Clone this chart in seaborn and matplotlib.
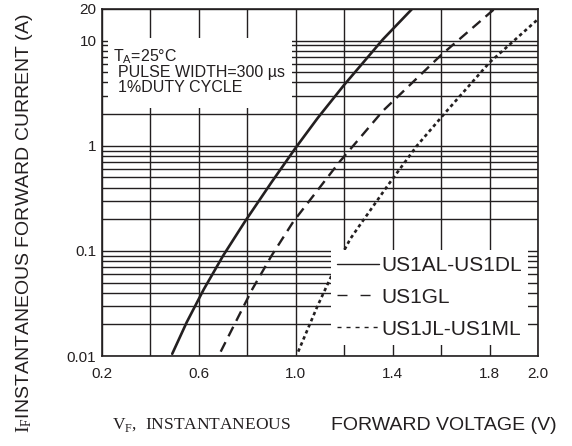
import matplotlib
matplotlib.use("Agg")
import matplotlib.pyplot as plt
import matplotlib.patches as patches
from matplotlib.ticker import LogLocator, NullFormatter, FixedLocator, FixedFormatter
import seaborn as sns
import pandas as pd

# --- data ---
vf_ad = [0.49, 0.55, 0.62, 0.70, 0.79, 0.90, 1.00, 1.09, 1.20, 1.36, 1.48]
if_ad = [0.0105, 0.021, 0.043, 0.09, 0.19, 0.45, 0.96, 1.83, 3.8, 10.3, 20.0]

vf_gl = [0.69, 0.82, 0.90, 0.99, 1.18, 1.36, 1.60, 1.82]
if_gl = [0.011, 0.043, 0.09, 0.19, 0.70, 2.15, 7.3, 20.0]

vf_jm = [1.01, 1.09, 1.17, 1.225, 1.26, 1.38, 1.50, 1.62, 1.80, 2.00]
if_jm = [0.011, 0.030, 0.075, 0.13, 0.17, 0.42, 1.0, 2.1, 6.2, 16.0]

series_names = ["US1AL-US1DL", "US1GL", "US1JL-US1ML"]

x_grid = [0.2, 0.4, 0.6, 0.8, 1.0, 1.2, 1.4, 1.6, 1.8, 2.0]
x_labels = ["0.2", "", "0.6", "", "1.0", "", "1.4", "", "1.8", "2.0"]
y_ticks = [0.01, 0.1, 1, 10, 20]
y_labels = ["0.01", "0.1", "1", "10", "20"]

INK = "#231f20"

sns.set_theme(style="white")
plt.rcParams["font.family"] = ["Liberation Sans", "DejaVu Sans"]
plt.rcParams["mathtext.fontset"] = "custom"
plt.rcParams["mathtext.rm"] = "Liberation Serif"
plt.rcParams["mathtext.sf"] = "Liberation Sans"

fig = plt.figure(figsize=(5.72, 4.46), dpi=100)
ax = fig.add_axes([102 / 572, 1 - 356 / 446, 436 / 572, 347 / 446])

df_ad = pd.DataFrame({"vf": vf_ad, "if": if_ad})
df_gl = pd.DataFrame({"vf": vf_gl, "if": if_gl})
df_jm = pd.DataFrame({"vf": vf_jm, "if": if_jm})

sns.lineplot(data=df_ad, x="vf", y="if", ax=ax, color=INK, lw=1.9,
             label=series_names[0], zorder=3)
sns.lineplot(data=df_gl, x="vf", y="if", ax=ax, color=INK, lw=1.7,
             linestyle=(0, (4.5, 2.8)), label=series_names[1], zorder=3)
sns.lineplot(data=df_jm, x="vf", y="if", ax=ax, color=INK, lw=1.9,
             linestyle=(0, (1.3, 1.2)), label=series_names[2], zorder=3)

ax.set_yscale("log")
ax.set_xlim(0.2, 2.0)
ax.set_ylim(0.01, 20)

ax.xaxis.set_major_locator(FixedLocator(x_grid))
ax.xaxis.set_major_formatter(FixedFormatter(x_labels))
ax.yaxis.set_major_locator(FixedLocator(y_ticks))
ax.yaxis.set_major_formatter(FixedFormatter(y_labels))
ax.yaxis.set_minor_locator(LogLocator(base=10, subs=[2, 3, 4, 5, 6, 7, 8, 9]))
ax.yaxis.set_minor_formatter(NullFormatter())

ax.tick_params(axis="both", which="both", length=0, labelsize=11, colors=INK)
ax.tick_params(axis="x", pad=8)
ax.tick_params(axis="y", pad=4)

ax.grid(True, which="major", axis="x", color=INK, lw=1.0)
ax.grid(True, which="both", axis="y", color=INK, lw=1.0)
ax.set_axisbelow(True)
for sp in ax.spines.values():
    sp.set_color(INK)
    sp.set_linewidth(1.2)

ax.set_xlabel("")
ax.set_ylabel("")

# white box behind the test conditions
ax.add_patch(patches.Rectangle((0.014, 0.715), 0.422, 0.201, transform=ax.transAxes,
                               facecolor="white", edgecolor="none", zorder=2.5))
ax.text(0.025, 0.862, r"T$_\mathsf{A}$=25°C", transform=ax.transAxes,
        fontsize=11.5, color=INK, va="center", ha="left", zorder=4)
ax.text(0.037, 0.816, "PULSE WIDTH=300 µs", transform=ax.transAxes,
        fontsize=11.5, color=INK, va="center", ha="left", zorder=4)
ax.text(0.037, 0.775, "1%DUTY CYCLE", transform=ax.transAxes,
        fontsize=11.5, color=INK, va="center", ha="left", zorder=4)

leg = ax.legend(loc="lower right", bbox_to_anchor=(0.977, 0.032), fontsize=15,
                frameon=True, facecolor="white", edgecolor="none", framealpha=1,
                fancybox=False, handlelength=2.0, handletextpad=0.1,
                labelspacing=0.62, borderpad=0.3, borderaxespad=0)
for txt in leg.get_texts():
    txt.set_color(INK)
leg_lines = leg.get_lines()
leg_lines[0].set_linewidth(1.0)
leg_lines[1].set_linewidth(1.0)
leg_lines[1].set_linestyle((0, (7.2, 9.4)))
leg_lines[2].set_linewidth(1.0)
leg_lines[2].set_linestyle((0, (2.9, 3.6)))

# axis titles
fig.text(25 / 572, 1 - 223 / 446, r"$\mathrm{I_F}$INSTANTANEOUS FORWARD CURRENT (A)",
         rotation=90, ha="center", va="center", fontsize=14, color=INK)
fig.text(201 / 572, 1 - 425 / 446, r"V$_\mathrm{F}$,  INSTANTANEOUS",
         family="Liberation Serif", ha="center", va="center", fontsize=12.5, color=INK)
fig.text(331 / 572, 1 - 425 / 446, "FORWARD VOLTAGE (V)",
         ha="left", va="center", fontsize=14, color=INK)

fig.savefig("out.png", dpi=100)
